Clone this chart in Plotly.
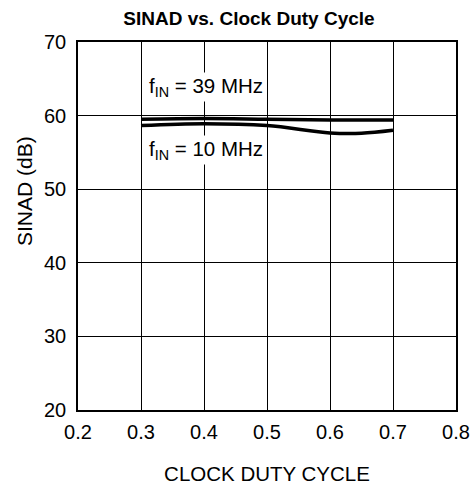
import plotly.graph_objects as go

duty = [0.3, 0.4, 0.5, 0.6, 0.65, 0.7]
sinad_39 = [59.5, 59.6, 59.5, 59.4, 59.4, 59.4]
sinad_10 = [58.65, 58.9, 58.65, 57.65, 57.6, 58.0]

x_ticks = [0.2, 0.3, 0.4, 0.5, 0.6, 0.7, 0.8]
y_ticks = [20, 30, 40, 50, 60, 70]

FONT = "Liberation Sans, Arial, sans-serif"

W, H = 476, 487
ML, MR, MT, MB = 78, 20, 42, 77
plot_w = W - ML - MR
plot_h = H - MT - MB

fig = go.Figure()
fig.add_trace(go.Scatter(x=duty, y=sinad_39, mode="lines",
                         line=dict(color="black", width=3.5, shape="spline"),
                         showlegend=False))
fig.add_trace(go.Scatter(x=duty, y=sinad_10, mode="lines",
                         line=dict(color="black", width=3.5, shape="spline"),
                         showlegend=False))

fig.add_annotation(x=0.31, y=63.9, xref="x", yref="y", xanchor="left",
                   text="f<sub>IN</sub> = 39 MHz", showarrow=False,
                   font=dict(family=FONT, size=20.5, color="black"),
                   bgcolor="white", borderpad=1)
fig.add_annotation(x=0.31, y=55.3, xref="x", yref="y", xanchor="left",
                   text="f<sub>IN</sub> = 10 MHz", showarrow=False,
                   font=dict(family=FONT, size=20.5, color="black"),
                   bgcolor="white", borderpad=1)

# y-axis title
fig.add_annotation(x=(24 - ML) / plot_w, y=(H - MB - 191) / plot_h,
                   xref="paper", yref="paper", xanchor="center", yanchor="middle",
                   text="SINAD (dB)", showarrow=False, textangle=-90,
                   font=dict(family=FONT, size=21, color="black"))

fig.update_layout(
    width=W, height=H,
    margin=dict(l=ML, r=MR, t=MT, b=MB, autoexpand=False),
    paper_bgcolor="white", plot_bgcolor="white",
    font=dict(family=FONT, size=20, color="black"),
    title=dict(text="<b>SINAD vs. Clock Duty Cycle</b>",
               x=(249 - ML) / plot_w, xref="paper",
               xanchor="center", y=1 - 18 / H, yanchor="middle",
               font=dict(family=FONT, size=19, color="black")),
    xaxis=dict(range=[0.2, 0.8], tickvals=x_ticks,
               ticktext=[f"{v:.1f}" for v in x_ticks],
               showgrid=True, gridcolor="black", gridwidth=1,
               showline=True, linecolor="black", linewidth=1.5, mirror=True,
               ticks="", zeroline=False, ticklabelstandoff=3,
               title=dict(text="CLOCK DUTY CYCLE", standoff=25,
                          font=dict(family=FONT, size=20.5))),
    yaxis=dict(range=[20, 70], tickvals=y_ticks,
               showgrid=True, gridcolor="black", gridwidth=1,
               showline=True, linecolor="black", linewidth=1.5, mirror=True,
               ticks="", zeroline=False, ticklabelstandoff=6),
)

fig.write_html("out.html", config={"displayModeBar": False},
               post_script="document.body.style.margin='0';")
